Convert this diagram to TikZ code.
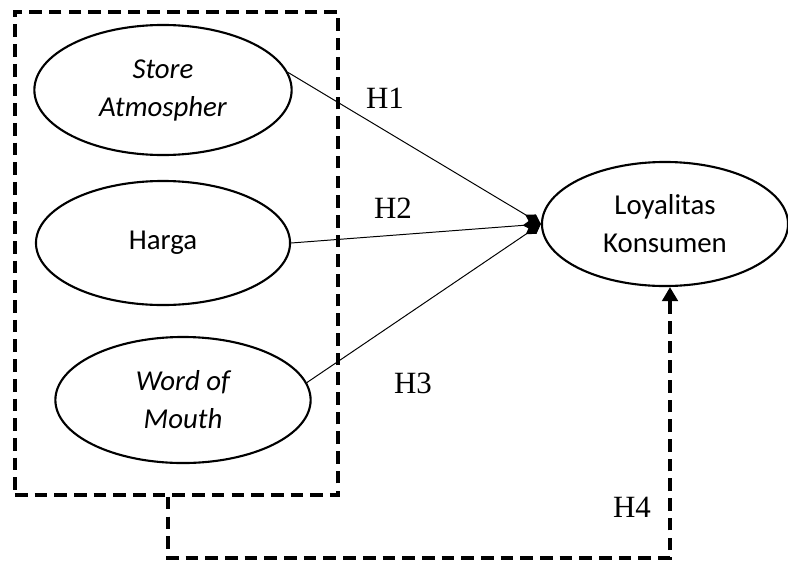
\documentclass[tikz,border=0pt]{standalone}
\usepackage{fontspec}
\setmainfont{Liberation Serif}
\newfontfamily\calibri{Carlito}
\usetikzlibrary{shapes.geometric,arrows.meta}

\begin{document}
\begin{tikzpicture}[x = 0.025cm, y = -0.025cm,
                        var/.style = {ellipse, draw, line width = 1.5pt, inner sep = 0pt, align = center,
                                      font = \calibri\fontsize{20.5}{27}\selectfont},
                        path/.style = {line width = 0.7pt, -{Diamond[length = 13pt, width = 8pt]}},
                        dashbox/.style = {draw, line width = 2.5pt, dash pattern = on 9pt off 5pt},
                        hyp/.style = {font = \fontsize{22}{26}\selectfont}]
    \useasboundingbox (0, 0) rectangle (788, 560);
    \node [dashbox, minimum width = 8.075cm, minimum height = 12.075cm] (box) at (176.5, 253.5){};
    \node [var, minimum width = 6.43cm, minimum height = 3.25cm] (store) at (163, 90){\itshape Store\\\itshape Atmospher};
    \node [var, minimum width = 6.35cm, minimum height = 3.1cm] (harga) at (163, 243){Harga};
    \node [var, minimum width = 6.38cm, minimum height = 3.15cm] (wom) at (183, 400){\itshape Word of\\\itshape Mouth};
    \node [var, minimum width = 6.15cm, minimum height = 3.1cm] (loyal) at (665, 224){Loyalitas\\Konsumen};
    \draw [path] (store.8) -- (loyal.west);
    \draw [path] (harga.east) -- (loyal.west);
    \draw [path] (wom.8) -- (loyal.west);
    \node [hyp] (h1) at (385, 98){H1};
    \node [hyp] (h2) at (393, 208){H2};
    \node [hyp] (h3) at (413, 383){H3};
    \node [hyp] (h4) at (632, 507){H4};
    \coordinate (corner) at (670, 558);
    \draw [dashbox, -{Triangle[length = 10pt, width = 11pt]}]
        ([xshift = -0.21cm]box.south) |- (corner) -- (corner |- loyal.south);
  \end{tikzpicture}
\end{document}
